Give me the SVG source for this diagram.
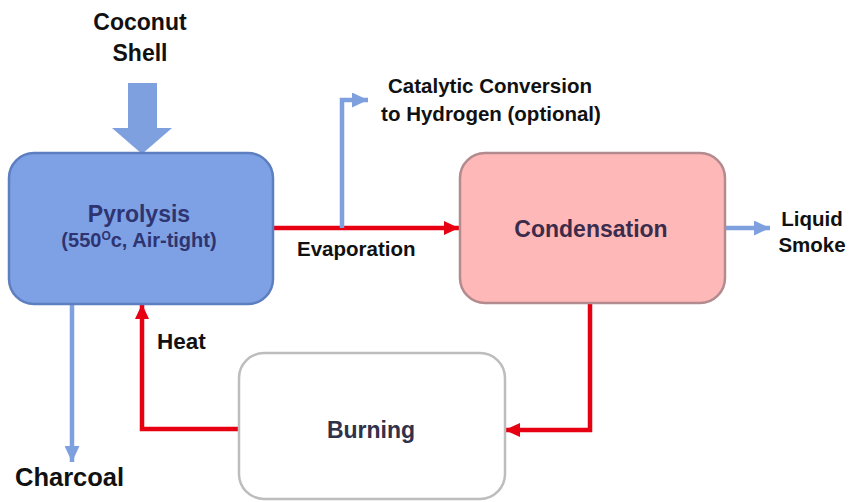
<svg xmlns="http://www.w3.org/2000/svg" width="850" height="502" viewBox="0 0 850 502">
<style>
.lbl{font-family:"Liberation Sans",Arial,sans-serif;font-weight:bold;fill:#111;}
.node{font-family:"Liberation Sans",Arial,sans-serif;font-weight:bold;}
.red{stroke:#e60012;stroke-width:4.5;fill:none;}
.blue{stroke:#7fa0df;stroke-width:4.5;fill:none;}
</style>
<defs>
<marker id="ah-red" markerUnits="userSpaceOnUse" markerWidth="16" markerHeight="14" refX="15" refY="7" orient="auto">
<path d="M0,0 L15,7 L0,14 z" fill="#e60012"/>
</marker>
<marker id="ah-blue" markerUnits="userSpaceOnUse" markerWidth="17" markerHeight="15" refX="16" refY="7.5" orient="auto">
<path d="M0,0 L16,7.5 L0,15 z" fill="#7fa0df"/>
</marker>
</defs>
<rect width="850" height="502" fill="#fff"/>
<g id="connectors">
<polygon points="128,83 157,83 157,128 172,128 142,154 112,128 128,128" fill="#7fa0df"/>
<line class="red" x1="273" y1="228" x2="459" y2="228" marker-end="url(#ah-red)"/>
<polyline class="blue" points="342,228 342,100 368,100" marker-end="url(#ah-blue)"/>
<line class="blue" x1="725" y1="228" x2="770" y2="228" marker-end="url(#ah-blue)"/>
<line class="blue" x1="72" y1="304" x2="72" y2="462" marker-end="url(#ah-blue)"/>
<polyline class="red" points="590,303 590,430 505,430" marker-end="url(#ah-red)"/>
<polyline class="red" points="239,429 142,429 142,304" marker-end="url(#ah-red)"/>
</g>
<g id="pyrolysis">
<rect x="9" y="153" width="264" height="151" rx="25" fill="#7ea1e5" stroke="#5d7fc0" stroke-width="2.5"/>
<text class="node" x="139" y="222" text-anchor="middle" font-size="23" fill="#2e3470">Pyrolysis</text>
<text class="node" x="139" y="247" text-anchor="middle" font-size="20" fill="#2e3470">(550<tspan font-size="12" dy="-7">O</tspan><tspan dy="7">c, Air-tight)</tspan></text>
</g>
<g id="condensation">
<rect x="460" y="153" width="265" height="150" rx="25" fill="#ffb8b8" stroke="#b38a8d" stroke-width="2.5"/>
<text class="node" x="591" y="237" text-anchor="middle" font-size="23" fill="#3c2c4c">Condensation</text>
</g>
<g id="burning">
<rect x="239" y="353" width="266" height="146" rx="25" fill="#fff" stroke="#bdbdbd" stroke-width="2.5"/>
<text class="node" x="371" y="438" text-anchor="middle" font-size="23" fill="#31314a">Burning</text>
</g>
<g id="coconut">
<text class="lbl" x="140" y="30" text-anchor="middle" font-size="23">Coconut</text>
<text class="lbl" x="140" y="61" text-anchor="middle" font-size="23">Shell</text>
</g>
<g id="catalytic">
<text class="lbl" x="490" y="93" text-anchor="middle" font-size="20.5">Catalytic Conversion</text>
<text class="lbl" x="491" y="121" text-anchor="middle" font-size="20.5">to Hydrogen (optional)</text>
</g>
<g id="liquid-smoke">
<text class="lbl" x="812" y="226" text-anchor="middle" font-size="20.5">Liquid</text>
<text class="lbl" x="812" y="252" text-anchor="middle" font-size="20.5">Smoke</text>
</g>
<g id="charcoal">
<text class="lbl" x="15" y="486" font-size="25.5">Charcoal</text>
</g>
<g id="labels">
<text class="lbl" x="297" y="256" font-size="20.5">Evaporation</text>
<text class="lbl" x="157" y="349" font-size="22.5">Heat</text>
</g>
</svg>
